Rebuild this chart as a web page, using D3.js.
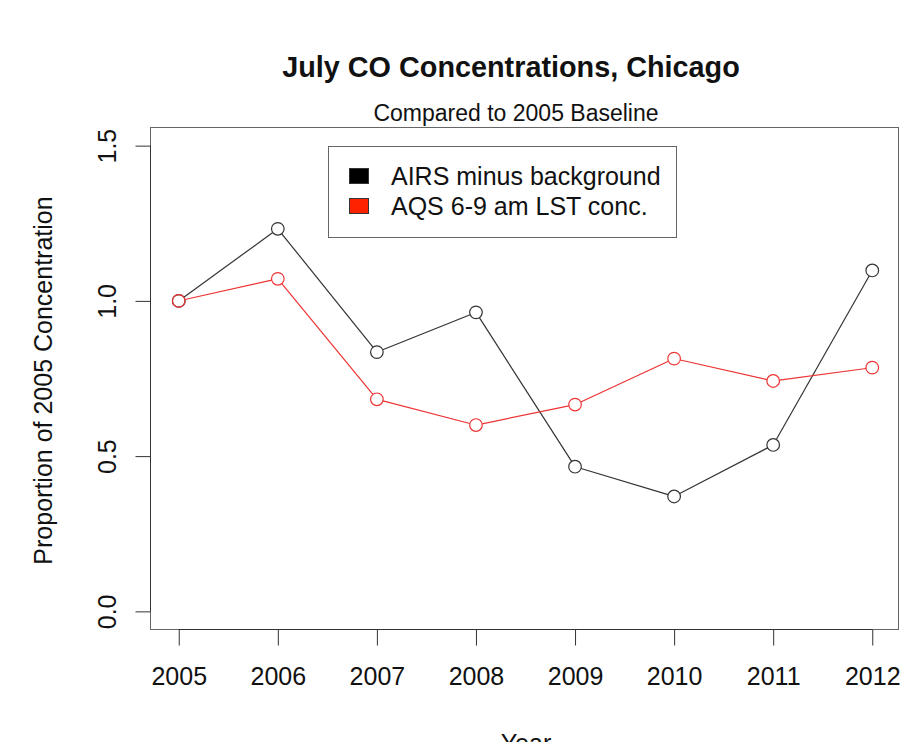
<!DOCTYPE html>
<html>
<head>
<meta charset="utf-8">
<script src="https://cdn.jsdelivr.net/npm/d3@7"></script>
<style>
  html, body { margin: 0; padding: 0; background: #fff; }
  svg { display: block; font-family: "Liberation Sans", Arial, Helvetica, sans-serif; }
</style>
</head>
<body>
<svg id="chart" width="902" height="742"></svg>
<script>
// Years on the x axis
const years = [2005, 2006, 2007, 2008, 2009, 2010, 2011, 2012];
// July CO as a proportion of the 2005 value
const airsMinusBackground = [1.000, 1.232, 0.835, 0.963, 0.466, 0.370, 0.536, 1.098];
const aqsMorning = [1.000, 1.071, 0.683, 0.600, 0.666, 0.814, 0.742, 0.785];
const yTicks = [0.0, 0.5, 1.0, 1.5];
const seriesNames = ["AIRS minus background", "AQS 6-9 am LST conc."];
const seriesColors = ["#333333", "#ee3333"];
const legendFills = ["#000000", "#ff2200"];

const svg = d3.select("#chart");
svg.append("rect").attr("width", 902).attr("height", 742).attr("fill", "#fff");

// Plot region (R-style: data range padded by 4% on each side)
const plot = { left: 151, right: 900, top: 127, bottom: 630 };
const pad = (lo, hi) => { const d = (hi - lo) * 0.04; return [lo - d, hi + d]; };

const x = d3.scaleLinear().domain(pad(2005, 2012)).range([plot.left, plot.right]);
const y = d3.scaleLinear().domain(pad(0, 1.5)).range([plot.bottom, plot.top]);

// Plot frame
svg.append("rect")
  .attr("x", plot.left - 0.5).attr("y", plot.top + 0.5)
  .attr("width", plot.right - plot.left - 1).attr("height", plot.bottom - plot.top - 1)
  .attr("fill", "none").attr("stroke", "#666").attr("stroke-width", 1);

// X axis
const xAxis = d3.axisBottom(x)
  .tickValues(years).tickFormat(d3.format("d"))
  .tickSize(16).tickPadding(22);
const gx = svg.append("g").attr("transform", `translate(0,${plot.bottom - 0.5})`).call(xAxis);
gx.select(".domain").attr("d", `M${x(years[0])},0H${x(years[years.length - 1])}`)
  .attr("stroke", "#333");
gx.selectAll(".tick line").attr("stroke", "#333");
gx.selectAll(".tick text").attr("font-size", 25).attr("fill", "#111")
  .attr("font-family", "Liberation Sans, Arial, sans-serif");

// Y axis with labels rotated parallel to the axis
const yAxis = d3.axisLeft(y)
  .tickValues(yTicks).tickFormat(d3.format(".1f"))
  .tickSize(15);
const gy = svg.append("g").attr("transform", `translate(${plot.left - 0.5},0)`).call(yAxis);
gy.select(".domain").attr("d", `M0,${y(yTicks[0])}V${y(yTicks[yTicks.length - 1])}`)
  .attr("stroke", "#333");
gy.selectAll(".tick line").attr("stroke", "#333");
gy.selectAll(".tick text")
  .attr("font-size", 25).attr("fill", "#111")
  .attr("font-family", "Liberation Sans, Arial, sans-serif")
  .attr("x", null).attr("dy", null)
  .attr("text-anchor", "middle")
  .attr("transform", "translate(-35,0) rotate(-90)");

// Titles
svg.append("text").attr("x", 511).attr("y", 77)
  .attr("text-anchor", "middle").attr("font-size", 28.8).attr("font-weight", "bold")
  .attr("fill", "#111").text("July CO Concentrations, Chicago");
svg.append("text").attr("x", 516).attr("y", 121)
  .attr("text-anchor", "middle").attr("font-size", 23).attr("fill", "#111")
  .text("Compared to 2005 Baseline");

// Axis titles
svg.append("text").attr("x", 526).attr("y", 752)
  .attr("text-anchor", "middle").attr("font-size", 25).attr("fill", "#111").text("Year");
svg.append("text")
  .attr("transform", `translate(52,${(plot.top + plot.bottom) / 2 + 2}) rotate(-90)`)
  .attr("text-anchor", "middle").attr("font-size", 25).attr("fill", "#111")
  .text("Proportion of 2005 Concentration");

// Series drawn as lines broken around open circles
const r = 6.3;
function drawSeries(values, color) {
  const pts = values.map((v, i) => [x(years[i]), y(v)]);
  const g = svg.append("g");
  for (let i = 0; i < pts.length - 1; i++) {
    const [x0, y0] = pts[i], [x1, y1] = pts[i + 1];
    const len = Math.hypot(x1 - x0, y1 - y0);
    if (len <= 2 * r) continue;
    const ux = (x1 - x0) / len, uy = (y1 - y0) / len;
    g.append("line")
      .attr("x1", x0 + ux * r).attr("y1", y0 + uy * r)
      .attr("x2", x1 - ux * r).attr("y2", y1 - uy * r)
      .attr("stroke", color).attr("stroke-width", 1.2);
  }
  g.selectAll("circle").data(values).join("circle")
    .attr("cx", (d, i) => x(years[i])).attr("cy", d => y(d)).attr("r", r)
    .attr("fill", "none").attr("stroke", color).attr("stroke-width", 1.2);
}
drawSeries(airsMinusBackground, seriesColors[0]);
drawSeries(aqsMorning, seriesColors[1]);

// Legend
const lg = svg.append("g");
lg.append("rect").attr("x", 328.5).attr("y", 146.5).attr("width", 348).attr("height", 91)
  .attr("fill", "#fff").attr("stroke", "#666").attr("stroke-width", 1);
seriesNames.forEach((name, i) => {
  const cy = 176 + i * 30;
  lg.append("rect").attr("x", 349.5).attr("y", cy - 7.5).attr("width", 19).attr("height", 15)
    .attr("fill", legendFills[i]).attr("stroke", "#333").attr("stroke-width", 1);
  lg.append("text").attr("x", 391).attr("y", cy + 9)
    .attr("font-size", 25).attr("fill", "#111").text(name);
});
</script>
</body>
</html>
